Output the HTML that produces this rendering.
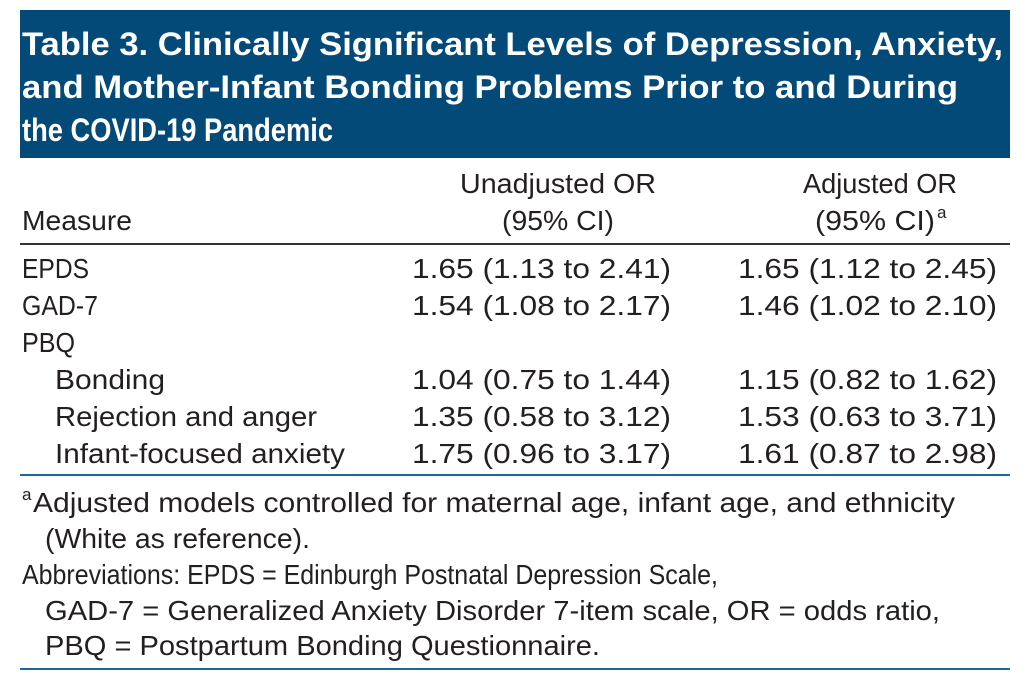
<!DOCTYPE html>
<html><head><meta charset="utf-8"><style>
html,body{margin:0;padding:0;background:#fff;}
svg{display:block;}
text{font-family:"Liberation Sans",sans-serif;fill:#231f20;}
.t{font-weight:bold;fill:#fff;font-size:32px;}
.b{font-size:28px;}
</style></head><body>
<svg width="1029" height="692" viewBox="0 0 1029 692">
<rect x="20" y="10" width="990" height="148" fill="#034a78"/>
<g>
<text class="t" x="22" y="55" textLength="981" lengthAdjust="spacingAndGlyphs">Table 3. Clinically Significant Levels of Depression, Anxiety,</text>
<text class="t" x="22" y="98" textLength="936" lengthAdjust="spacingAndGlyphs">and Mother-Infant Bonding Problems Prior to and During</text>
<text class="t" x="22" y="141" textLength="311" lengthAdjust="spacingAndGlyphs">the COVID-19 Pandemic</text>
</g>
<g>
<text class="b" x="22" y="230" textLength="110" lengthAdjust="spacingAndGlyphs">Measure</text>
<text class="b" x="460" y="193" textLength="196" lengthAdjust="spacingAndGlyphs">Unadjusted OR</text>
<text class="b" x="502" y="230" textLength="112" lengthAdjust="spacingAndGlyphs">(95% CI)</text>
<text class="b" x="803" y="193" textLength="154" lengthAdjust="spacingAndGlyphs">Adjusted OR</text>
<text class="b" x="815" y="230" textLength="120" lengthAdjust="spacingAndGlyphs">(95% CI)</text>
<text x="937" y="218" font-size="17">a</text>
</g>
<rect x="20" y="243" width="990" height="2" fill="#333"/>
<g>
<text class="b" x="22" y="278" textLength="67" lengthAdjust="spacingAndGlyphs">EPDS</text>
<text class="b" x="412" y="278" textLength="259" lengthAdjust="spacingAndGlyphs">1.65 (1.13 to 2.41)</text>
<text class="b" x="738" y="278" textLength="259" lengthAdjust="spacingAndGlyphs">1.65 (1.12 to 2.45)</text>
<text class="b" x="22" y="315" textLength="76" lengthAdjust="spacingAndGlyphs">GAD-7</text>
<text class="b" x="412" y="315" textLength="259" lengthAdjust="spacingAndGlyphs">1.54 (1.08 to 2.17)</text>
<text class="b" x="738" y="315" textLength="259" lengthAdjust="spacingAndGlyphs">1.46 (1.02 to 2.10)</text>
<text class="b" x="22" y="352" textLength="53" lengthAdjust="spacingAndGlyphs">PBQ</text>
<text class="b" x="55" y="389" textLength="110" lengthAdjust="spacingAndGlyphs">Bonding</text>
<text class="b" x="412" y="389" textLength="259" lengthAdjust="spacingAndGlyphs">1.04 (0.75 to 1.44)</text>
<text class="b" x="738" y="389" textLength="259" lengthAdjust="spacingAndGlyphs">1.15 (0.82 to 1.62)</text>
<text class="b" x="55" y="426" textLength="262" lengthAdjust="spacingAndGlyphs">Rejection and anger</text>
<text class="b" x="412" y="426" textLength="259" lengthAdjust="spacingAndGlyphs">1.35 (0.58 to 3.12)</text>
<text class="b" x="738" y="426" textLength="259" lengthAdjust="spacingAndGlyphs">1.53 (0.63 to 3.71)</text>
<text class="b" x="55" y="463" textLength="290" lengthAdjust="spacingAndGlyphs">Infant-focused anxiety</text>
<text class="b" x="412" y="463" textLength="259" lengthAdjust="spacingAndGlyphs">1.75 (0.96 to 3.17)</text>
<text class="b" x="738" y="463" textLength="259" lengthAdjust="spacingAndGlyphs">1.61 (0.87 to 2.98)</text>
</g>
<rect x="20" y="474" width="990" height="2" fill="#1a6a9a"/>
<g>
<text x="22" y="500" font-size="17">a</text>
<text class="b" x="33" y="512" textLength="922" lengthAdjust="spacingAndGlyphs">Adjusted models controlled for maternal age, infant age, and ethnicity</text>
<text class="b" x="45" y="548" textLength="265" lengthAdjust="spacingAndGlyphs">(White as reference).</text>
<text class="b" x="22" y="584" textLength="696" lengthAdjust="spacingAndGlyphs">Abbreviations: EPDS = Edinburgh Postnatal Depression Scale,</text>
<text class="b" x="45" y="620" textLength="895" lengthAdjust="spacingAndGlyphs">GAD-7 = Generalized Anxiety Disorder 7-item scale, OR = odds ratio,</text>
<text class="b" x="45" y="655" textLength="555" lengthAdjust="spacingAndGlyphs">PBQ = Postpartum Bonding Questionnaire.</text>
</g>
<rect x="20" y="668" width="990" height="2" fill="#1a6a9a"/>
</svg>
</body></html>
